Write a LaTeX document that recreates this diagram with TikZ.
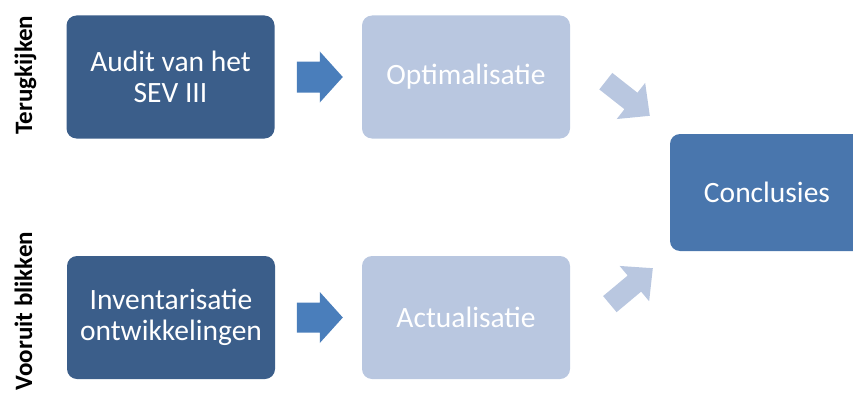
\documentclass[tikz,border=0pt]{standalone}
\usepackage{fontspec}
\setmainfont{Carlito}
\usetikzlibrary{calc}
\definecolor{darkbox}{RGB}{59,94,138}
\definecolor{midbox}{RGB}{73,118,173}
\definecolor{lightbox}{RGB}{185,199,224}
\definecolor{arrowblue}{RGB}{74,126,187}
\newcommand{\blkarrow}[7]{%
  \begin{scope}[shift={#1}, rotate=#2]
    \fill[#7] (-#3,-#4) -- (-#6,-#4) -- (-#6,-#5) -- (0,0) -- (-#6,#5) -- (-#6,#4) -- (-#3,#4) -- cycle;
  \end{scope}}
\tikzset{
  box/.style={rectangle, rounded corners=10pt, minimum width=208pt, minimum height=123pt,
    inner sep=0pt, text=white, align=center, font=\fontsize{29.5}{31}\selectfont},
  sidelabel/.style={rotate=90, anchor=base, inner sep=0pt, font=\fontsize{25}{28}\selectfont\bfseries}
}
\begin{document}
\begin{tikzpicture}[x=1pt,y=-1pt]
\useasboundingbox (0,0) rectangle (853,396);
\clip (0,0) rectangle (853,396);
\node[box, fill=darkbox] (audit) at (170.5,77) {Audit van het\\SEV III};
\node[box, fill=lightbox] (opt) at (466,77) {Optimalisatie};
\node[box, fill=darkbox] (inv) at (171,317.5) {Inventarisatie\\ontwikkelingen};
\node[box, fill=lightbox] (act) at (466,317.5) {Actualisatie};
\node[box, fill=midbox, minimum width=194pt, minimum height=117pt] (conc) at (767,192.5) {Conclusies};
\node[sidelabel] (terug) at (32,75) {Terugkijken};
\node[sidelabel] (vooruit) at (32,311) {Vooruit blikken};
\blkarrow{($(opt.west)+(-19,0)$)}{0}{46}{15.5}{25.5}{23}{arrowblue}
\blkarrow{($(act.west)+(-19,0)$)}{0}{46}{15}{25.5}{23}{arrowblue}
\blkarrow{($(conc.north west)+(-20,-18)$)}{-38.2}{56}{10.5}{23}{24}{lightbox}
\blkarrow{($(conc.south west)+(-17,17)$)}{39.9}{56}{10.5}{23}{24}{lightbox}
\end{tikzpicture}
\end{document}
